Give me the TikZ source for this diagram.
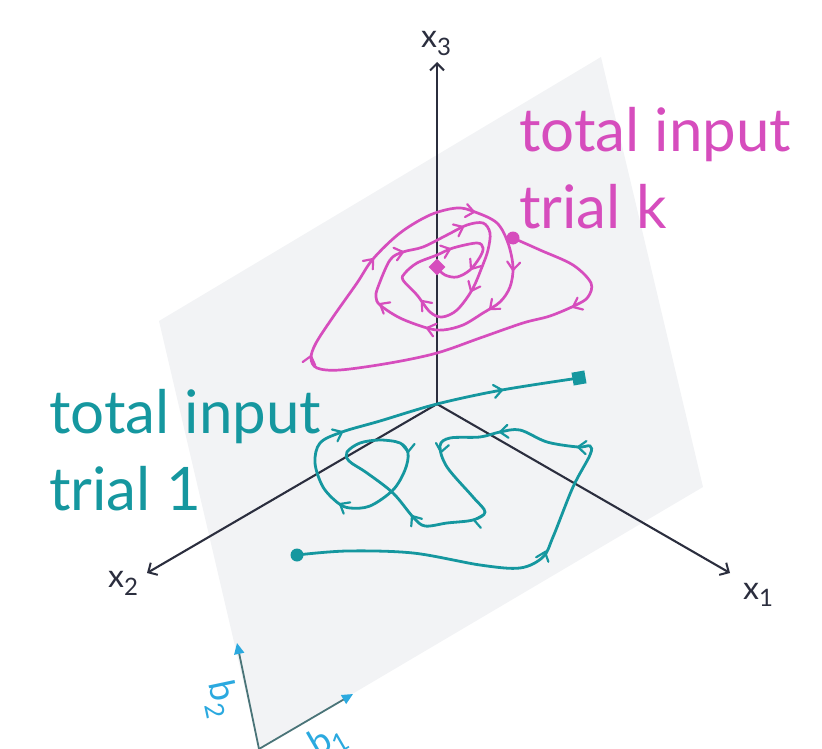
\documentclass[tikz,border=0pt]{standalone}
\usepackage{fontspec}
\setmainfont{Lato}
\usetikzlibrary{arrows.meta,shapes.geometric}
\definecolor{mag}{HTML}{D64DBD}
\definecolor{tealc}{HTML}{15979F}
\definecolor{planec}{HTML}{F2F3F5}
\definecolor{axisc}{HTML}{2B2E3E}
\definecolor{bblue}{HTML}{2BA9DF}
\definecolor{bline}{HTML}{4A7478}
\begin{document}
\begin{tikzpicture}[x=1pt,y=-1pt,
  chev/.pic={\draw[line width=2.2pt,line cap=round,line join=miter] (-8,6.5) -- (0,0) -- (-8,-6.5);},
  axisline/.style={draw=axisc,line width=2.1pt,-{Straight Barb[length=7pt,width=14pt,line width=2pt]}},
  axislabel/.style={anchor=base west,inner sep=0pt,text=axisc,font=\fontsize{32}{32}\selectfont},
  magcurve/.style={draw=mag,line width=2.7pt},
  tealcurve/.style={draw=tealc,line width=2.8pt},
  bigtext/.style={anchor=base west,inner sep=0pt,font=\fontsize{60}{60}\selectfont},
  barrow/.style={draw=bline,line width=1.8pt,-{Triangle[length=11pt,width=10pt,color=bblue]}},
  blabel/.style={inner sep=0pt,text=bblue,font=\fontsize{36}{36}\selectfont}]
\useasboundingbox (0,0) rectangle (822,749);
% plane
\fill[planec] (259,749) -- (703,487) -- (601,57) -- (159,321) -- cycle;
% axes
\coordinate (O) at (437,404);
\coordinate (X3) at (437,62);
\coordinate (X2) at (147,573);
\coordinate (X1) at (730,573);
\draw[axisline] (O) -- (X3);
\draw[axisline] (O) -- (X2);
\draw[axisline] (O) -- (X1);
\node[axislabel] (lx3) at (421,48) {x\raisebox{-8pt}{\fontsize{24}{24}\selectfont 3}};
\node[axislabel] (lx2) at (108,587) {x\raisebox{-8pt}{\fontsize{24}{24}\selectfont 2}};
\node[axislabel] (lx1) at (743,599) {x\raisebox{-7pt}{\fontsize{24}{24}\selectfont 1}};
% magenta trajectory
\draw[magcurve] plot[smooth,tension=0.55] coordinates {
 (513,238) (540,250) (573,265) (591,283) (588,297) (576,305) (550,316) (523,323)
 (480,338) (437,353) (390,363) (340,370) (317,368) (311,358) (316,343) (333,317)
 (357,283) (373,259) (400,233) (430,215) (457,208) (475,212) (497,223) (508,243)
 (513,267) (510,287) (500,302) (483,313) (463,325) (443,330) (427,328) (400,318)
 (380,305) (376,297) (378,287) (390,260) (403,252) (423,247) (447,235) (467,225)
 (483,223) (490,233) (488,250) (482,267) (472,290) (457,310) (442,317) (430,312)
 (417,295) (403,280) (405,273) (417,263) (437,255) (453,248) (477,243) (483,248)
 (480,257) (470,270) (457,277) (445,275) (437,268)};
\node[circle,fill=mag,minimum size=13pt,inner sep=0pt] (mstart) at (513,238) {};
\node[diamond,fill=mag,minimum size=17pt,inner sep=0pt] (mend) at (437,267) {};
\begin{scope}[mag]
\pic[rotate=50] at (373,259) {chev};
\pic[rotate=-10] at (474,212) {chev};
\pic[rotate=-95] at (513,270) {chev};
\pic[rotate=-155] at (573,307) {chev};
\pic[rotate=75] at (311,356) {chev};
\pic[rotate=-140] at (490,309) {chev};
\pic[rotate=165] at (427,328) {chev};
\pic[rotate=150] at (380,304) {chev};
\pic[rotate=15] at (403,252) {chev};
\pic[rotate=25] at (463,227) {chev};
\pic[rotate=-115] at (471,291) {chev};
\pic[rotate=130] at (422,301) {chev};
\pic[rotate=20] at (450,249) {chev};
\pic[rotate=-125] at (471,269) {chev};
\end{scope}
% teal trajectory
\draw[tealcurve] plot[smooth,tension=0.55] coordinates {
 (297,555) (347,551) (413,553) (480,565) (520,568) (543,557) (553,537) (573,487)
 (590,455) (590,446) (578,447) (547,442) (520,430) (500,432) (480,437) (450,438)
 (440,446) (447,467) (473,497) (485,512) (473,520) (447,523) (425,526)
 (413,517) (393,493) (367,473) (349,461) (347,452) (360,443) (380,440) (400,443)
 (408,453) (405,470) (393,490) (370,506) (350,508) (338,503) (323,487) (315,463)
 (320,443) (342,432) (380,421) (437,404) (502,390) (579,378)};
\node[circle,fill=tealc,minimum size=13pt,inner sep=0pt] (tstart) at (297,555) {};
\node[rectangle,fill=tealc,minimum size=13pt,inner sep=0pt,rotate=10] (tend) at (579,378) {};
\begin{scope}[tealc]
\pic[rotate=70] at (545,552) {chev};
\pic[rotate=176] at (578,447) {chev};
\pic[rotate=-175] at (500,432) {chev};
\pic[rotate=-100] at (441,452) {chev};
\pic[rotate=170] at (474,520) {chev};
\pic[rotate=125] at (412,516) {chev};
\pic[rotate=-90] at (408,452) {chev};
\pic[rotate=150] at (340,504) {chev};
\pic[rotate=25] at (342,432) {chev};
\pic[rotate=10] at (502,390) {chev};
\end{scope}
% labels
\node[bigtext,text=mag] (mk1) at (519,151.7) {total input};
\node[bigtext,text=mag] (mk2) at (519,228.3) {trial k};
\node[bigtext,text=tealc] (tk1) at (49,433.3) {total input};
\node[bigtext,text=tealc] (tk2) at (49,510) {trial 1};
% basis vectors
\coordinate (B0) at (259,749);
\coordinate (B1) at (353,694);
\coordinate (B2) at (237,643);
\draw[barrow] (B0) -- (B1);
\draw[barrow] (B0) -- (B2);
\node[blabel,rotate=-78] (lb2) at (221,699) {b\raisebox{-8pt}{\fontsize{26}{26}\selectfont 2}};
\node[blabel,rotate=30] (lb1) at (328,741) {b\raisebox{-8pt}{\fontsize{26}{26}\selectfont 1}};
\end{tikzpicture}
\end{document}
